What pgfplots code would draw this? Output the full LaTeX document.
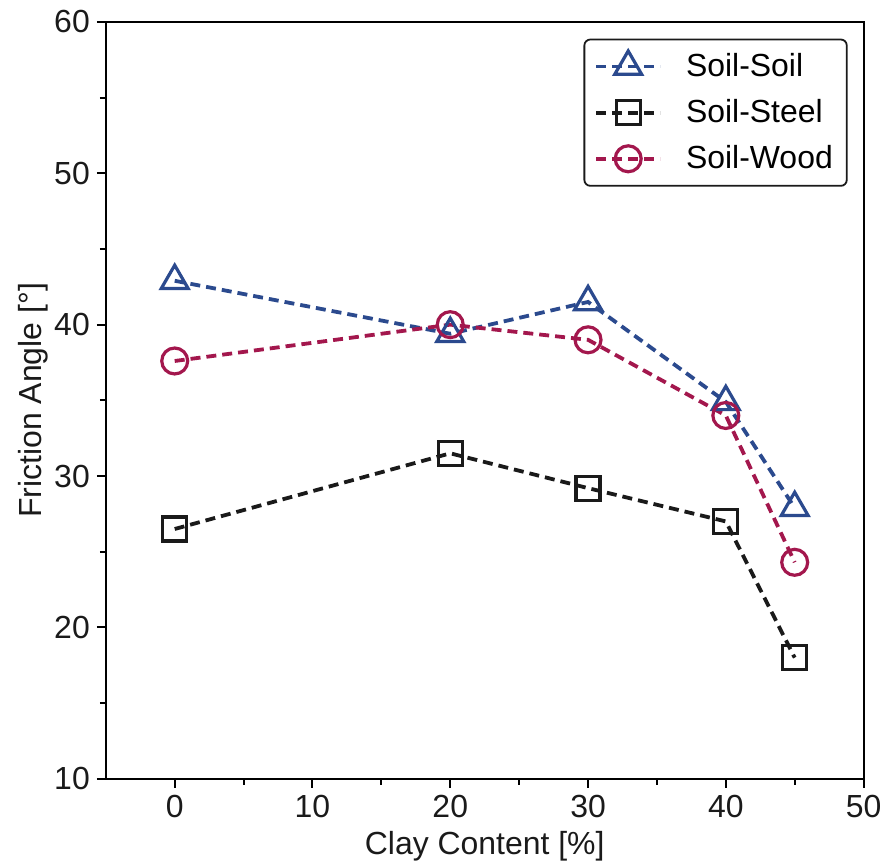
\documentclass[border=0pt]{standalone}
\usepackage{fontspec}
\setmainfont{Liberation Sans}
\usepackage{pgfplots}
\pgfplotsset{compat=1.18}
\definecolor{cblue}{HTML}{2B4A8E}
\definecolor{cred}{HTML}{A3174D}
\definecolor{cblack}{HTML}{1A1A1A}
\tikzset{myline/.style={line width=1.9pt, dash pattern=on 5pt off 3pt}}
\begin{document}
\begin{tikzpicture}
\begin{axis}[
  scale only axis,
  width=379.5pt, height=379pt,
  xmin=-5, xmax=50, ymin=10, ymax=60,
  xtick={0,10,...,50}, ytick={10,20,...,60},
  minor tick num=1,
  tick align=outside,
  xtick pos=left, ytick pos=left,
  major tick length=4.5pt, minor tick length=3pt,
  every tick/.style={line width=1pt, black},
  axis line style={line width=1pt},
  /pgf/number format/assume math mode=true,
  tick label style={font=\fontsize{16}{18}\selectfont, text=cblack},
  label style={font=\fontsize{16}{18}\selectfont, text=cblack},
  xlabel={Clay Content [\%]},
  ylabel={Friction Angle [°]},
  xlabel style={yshift=0pt},
  ylabel style={yshift=-4pt},
  legend style={at={(0.979,0.978)}, anchor=north east, font=\fontsize{16}{18}\selectfont,
    draw=cblack, line width=0.9pt, rounded corners=3pt,
    row sep=6pt, inner xsep=5pt, inner ysep=5pt,
    /tikz/every odd column/.append style={column sep=10pt}},
  legend cell align=left,
  legend image code/.code={
    \draw[mark repeat=2,mark phase=2,#1] plot coordinates {(0pt,0pt) (16pt,0pt) (32pt,0pt)};
  },
]
\addplot[cblue, myline, mark=triangle, mark size=7.8pt, mark options={solid, line width=1.6pt, fill=none}] coordinates {(0,42.9) (20,39.4) (30,41.5) (40,34.9) (45,27.9)};
\addlegendentry{Soil-Soil}
\addplot[cblack, myline, mark=square, mark size=6pt, mark options={solid, line width=1.6pt, fill=none}] coordinates {(0,26.5) (20,31.5) (30,29.2) (40,27.0) (45,18.0)};
\addlegendentry{Soil-Steel}
\addplot[cred, myline, mark=o, mark size=6.5pt, mark options={solid, line width=1.6pt, fill=none}] coordinates {(0,37.6) (20,40.0) (30,39.0) (40,34.0) (45,24.3)};
\addlegendentry{Soil-Wood}
\end{axis}
\path ([shift={(-53pt,-42pt)}]current axis.south west) rectangle ([shift={(11.5pt,11pt)}]current axis.north east);
\end{tikzpicture}
\end{document}
